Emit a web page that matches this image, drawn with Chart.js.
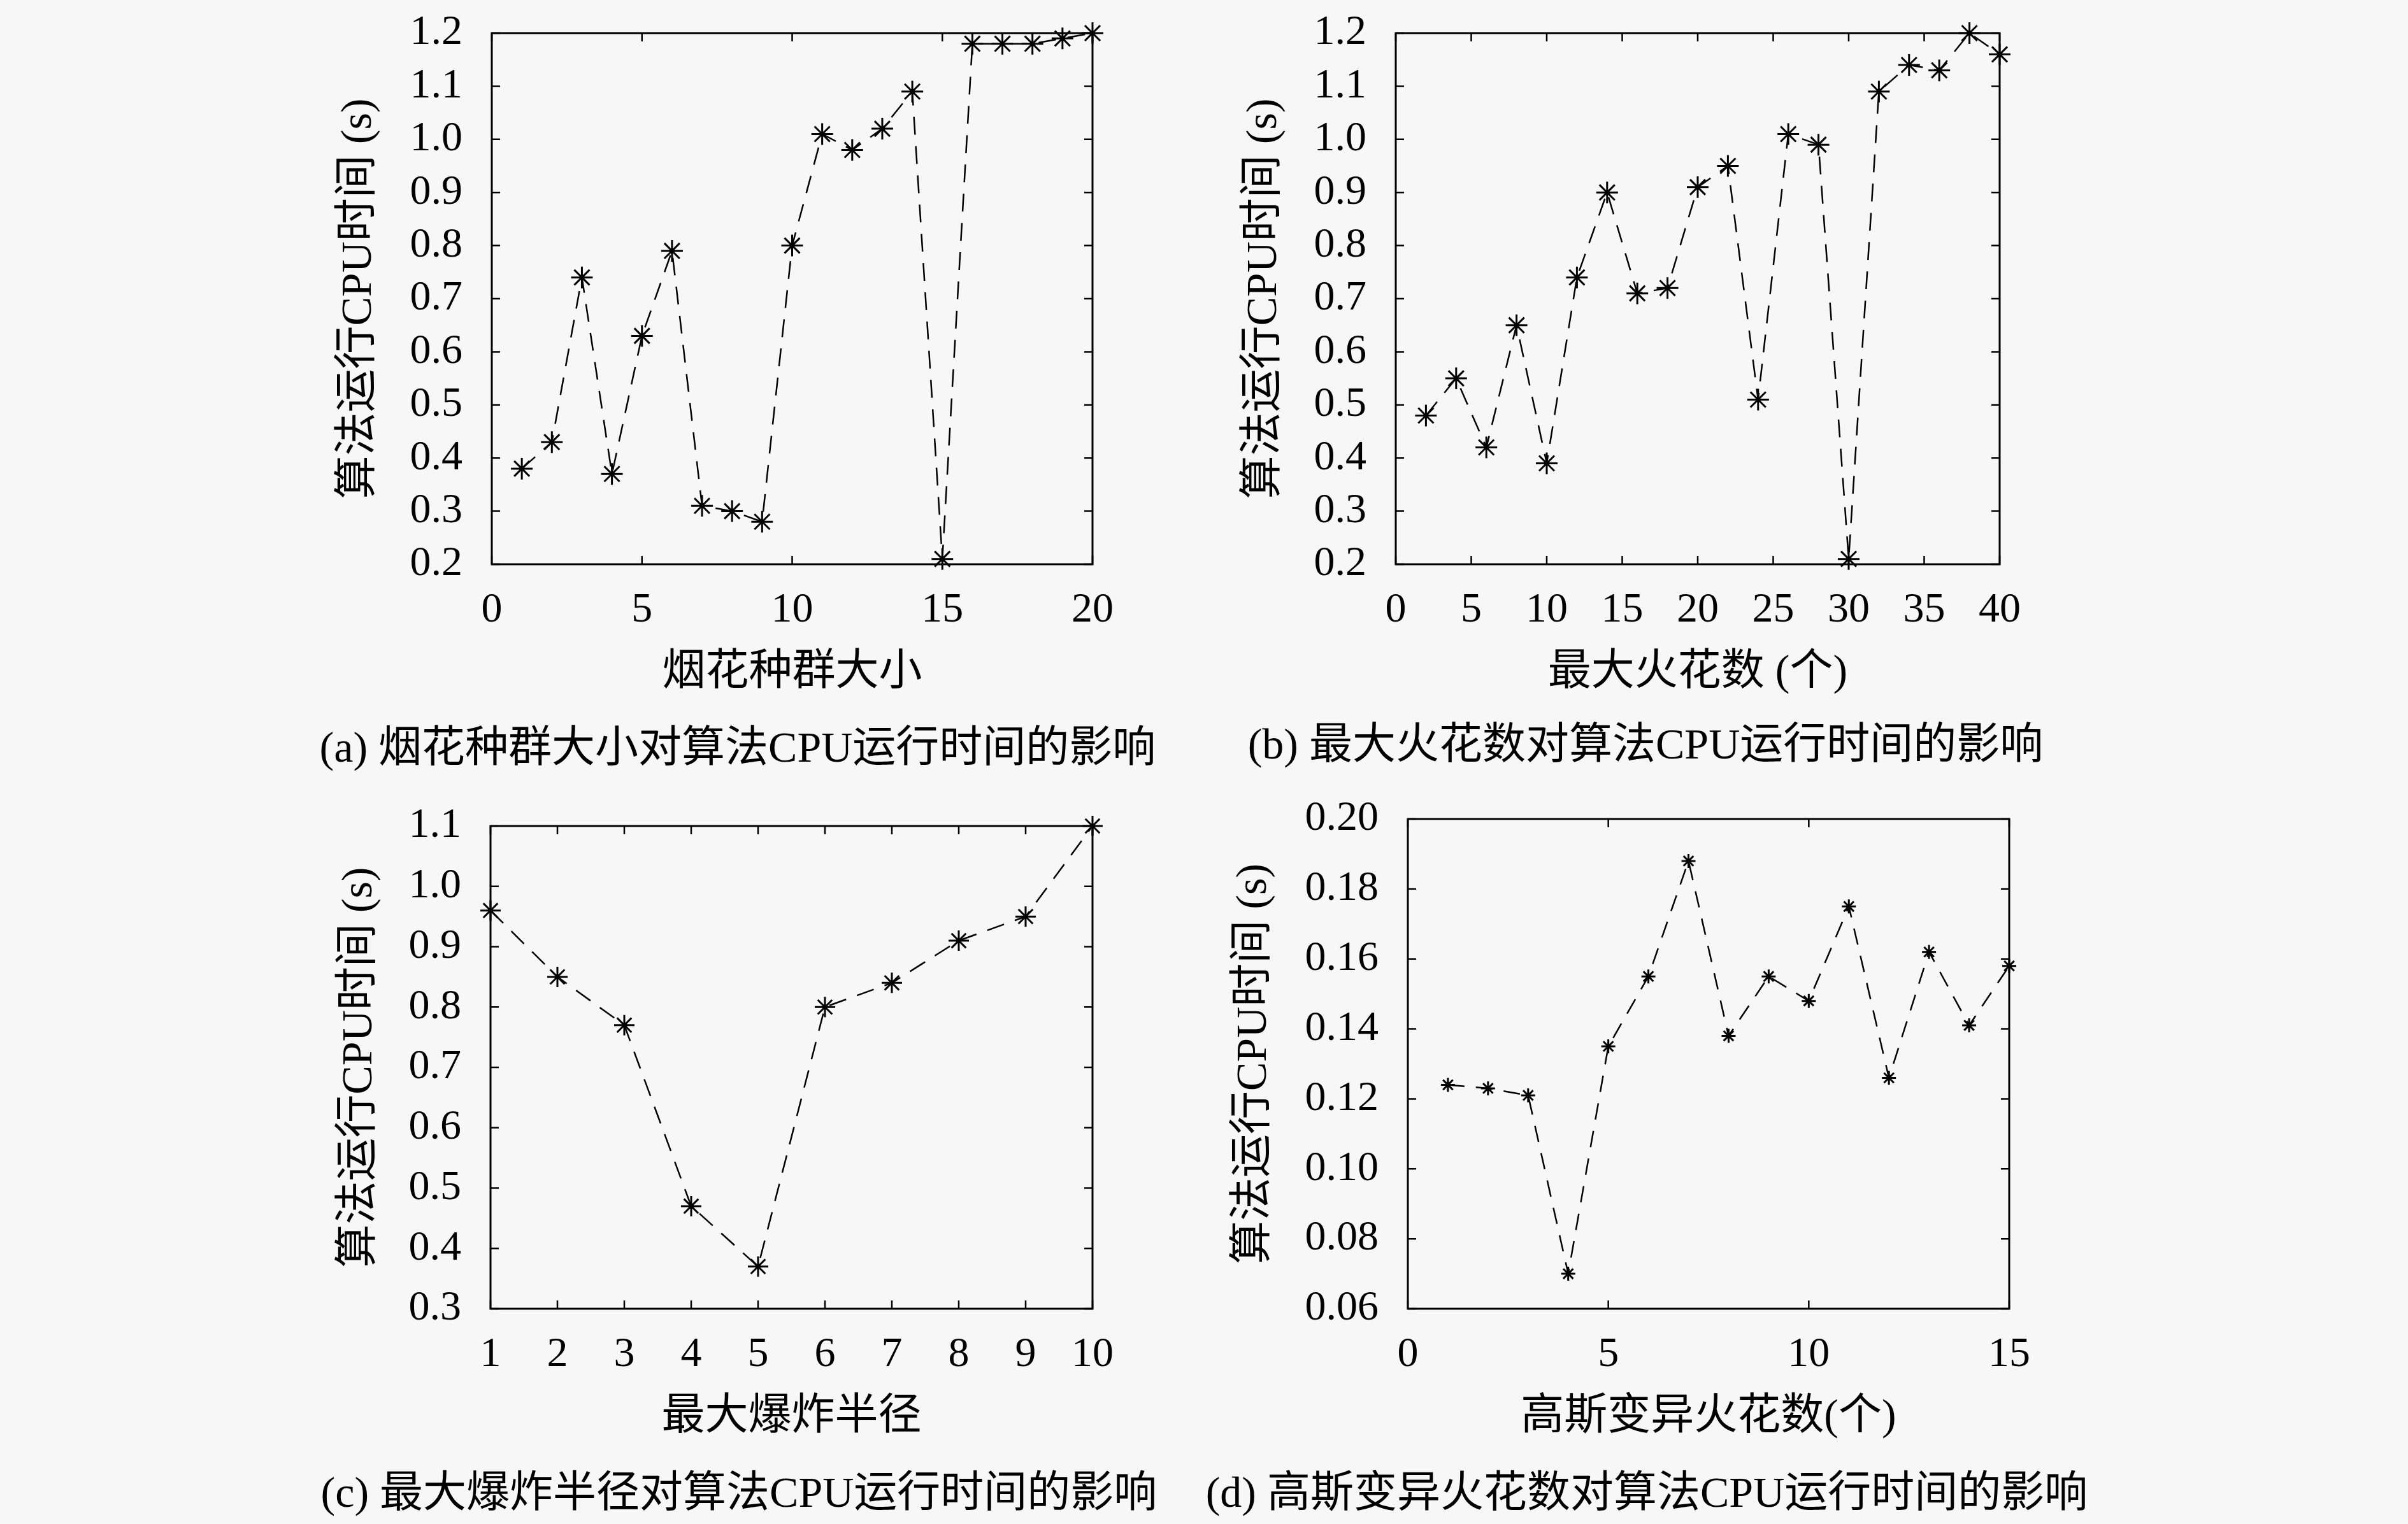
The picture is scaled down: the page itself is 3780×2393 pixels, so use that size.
<!DOCTYPE html>
<html lang="zh">
<head>
    <meta charset="UTF-8">
    <title>CPU运行时间</title>
    <style>
        html, body { margin: 0; padding: 0; background: #f7f7f7; }
        body { width: 3780px; height: 2393px; position: relative; overflow: hidden;
               font-family: 'Liberation Serif', 'Noto Sans CJK SC', serif; }
        .panel { position: absolute; }
        .caption { position: absolute; font-size: 68px; color: #000; white-space: nowrap;
                   transform: translate(-50%, -50%); }
    </style>
    <script src="https://cdn.jsdelivr.net/npm/chart.js"></script>
</head>
<body>
    <div class="panel" id="boxA"><canvas id="chartA"></canvas></div>
    <div class="panel" id="boxB"><canvas id="chartB"></canvas></div>
    <div class="panel" id="boxC"><canvas id="chartC"></canvas></div>
    <div class="panel" id="boxD"><canvas id="chartD"></canvas></div>

    <div class="caption" style="left:1158px; top:1166px;">(a) 烟花种群大小对算法CPU运行时间的影响</div>
    <div class="caption" style="left:2583px; top:1161px;">(b) 最大火花数对算法CPU运行时间的影响</div>
    <div class="caption" style="left:1160px; top:2336px;">(c) 最大爆炸半径对算法CPU运行时间的影响</div>
    <div class="caption" style="left:2585px; top:2336px;">(d) 高斯变异火花数对算法CPU运行时间的影响</div>

    <script>
        // (a) population size
        const popSize = [1, 2, 3, 4, 5, 6, 7, 8, 9, 10, 11, 12, 13, 14, 15, 16, 17, 18, 19, 20];
        const popTime = [0.38, 0.43, 0.74, 0.37, 0.63, 0.79, 0.31, 0.30, 0.28, 0.80,
                         1.01, 0.98, 1.02, 1.09, 0.21, 1.18, 1.18, 1.18, 1.19, 1.20];

        // (b) max sparks
        const sparkNum = [2, 4, 6, 8, 10, 12, 14, 16, 18, 20, 22, 24, 26, 28, 30, 32, 34, 36, 38, 40];
        const sparkTime = [0.48, 0.55, 0.42, 0.65, 0.39, 0.74, 0.90, 0.71, 0.72, 0.91,
                           0.95, 0.51, 1.01, 0.99, 0.21, 1.09, 1.14, 1.13, 1.20, 1.16];

        // (c) max explosion radius
        const radius = [1, 2, 3, 4, 5, 6, 7, 8, 9, 10];
        const radiusTime = [0.96, 0.85, 0.77, 0.47, 0.37, 0.80, 0.84, 0.91, 0.95, 1.10];

        // (d) gaussian sparks
        const gaussNum = [1, 2, 3, 4, 5, 6, 7, 8, 9, 10, 11, 12, 13, 14, 15];
        const gaussTime = [0.124, 0.123, 0.121, 0.070, 0.135, 0.155, 0.188, 0.138,
                           0.155, 0.148, 0.175, 0.126, 0.162, 0.141, 0.158];

        const yTitle = '算法运行CPU时间 (s)';
        const FONT = "'Liberation Serif', 'Noto Sans CJK SC', serif";
        const TICK_SIZE = 66, TITLE_SIZE = 68;

        // space around the plot area inside each canvas
        const L = 300, T = 120, R = 120, B = 240;

        // frame on all four sides with inward ticks
        const framePlugin = {
            id: 'frame',
            afterDatasetsDraw(chart) {
                const { ctx, chartArea: a, scales } = chart;
                ctx.save();
                ctx.strokeStyle = '#000';
                ctx.lineWidth = 3;
                ctx.strokeRect(a.left, a.top, a.right - a.left, a.bottom - a.top);
                ctx.lineWidth = 2.5;
                const len = 13;
                ctx.beginPath();
                scales.x.ticks.forEach(t => {
                    const px = scales.x.getPixelForValue(t.value);
                    ctx.moveTo(px, a.bottom); ctx.lineTo(px, a.bottom - len);
                    ctx.moveTo(px, a.top); ctx.lineTo(px, a.top + len);
                });
                scales.y.ticks.forEach(t => {
                    const py = scales.y.getPixelForValue(t.value);
                    ctx.moveTo(a.left, py); ctx.lineTo(a.left + len, py);
                    ctx.moveTo(a.right, py); ctx.lineTo(a.right - len, py);
                });
                ctx.stroke();
                ctx.restore();
            }
        };

        function makePanel(boxId, canvasId, plot, xs, ys, opt) {
            const w = plot.right - plot.left, h = plot.bottom - plot.top;
            const box = document.getElementById(boxId);
            box.style.left = (plot.left - L) + 'px';
            box.style.top = (plot.top - T) + 'px';
            box.style.width = (w + L + R) + 'px';
            box.style.height = (h + T + B) + 'px';
            const half = TITLE_SIZE * 1.2 / 2;

            return new Chart(document.getElementById(canvasId), {
                type: 'line',
                data: {
                    datasets: [{
                        data: xs.map((x, i) => ({ x: x, y: ys[i] })),
                        borderColor: '#000',
                        borderWidth: 2.5,
                        borderDash: opt.dash,
                        pointStyle: 'star',
                        pointRadius: opt.marker,
                        pointBorderWidth: 3,
                        pointBorderColor: '#000',
                        pointBackgroundColor: '#000',
                        tension: 0,
                        clip: false
                    }]
                },
                options: {
                    responsive: true,
                    maintainAspectRatio: false,
                    animation: false,
                    layout: { padding: { top: T, right: R, left: 0, bottom: 0 } },
                    plugins: { legend: { display: false }, tooltip: { enabled: false } },
                    scales: {
                        x: {
                            type: 'linear',
                            min: opt.xMin, max: opt.xMax,
                            afterFit: s => { s.height = B; },
                            grid: { display: false, drawTicks: false },
                            border: { display: false },
                            ticks: {
                                stepSize: opt.xStep, padding: 33, color: '#000',
                                font: { family: FONT, size: TICK_SIZE }
                            },
                            title: {
                                display: true, text: opt.xTitle, color: '#000',
                                font: { family: FONT, size: TITLE_SIZE },
                                padding: { top: 0, bottom: B - 171 - half }
                            }
                        },
                        y: {
                            min: opt.yMin, max: opt.yMax,
                            afterFit: s => { s.width = L; },
                            grid: { display: false, drawTicks: false },
                            border: { display: false },
                            ticks: {
                                stepSize: opt.yStep, padding: 46, color: '#000',
                                font: { family: FONT, size: TICK_SIZE },
                                callback: v => v.toFixed(opt.yDec)
                            },
                            title: {
                                display: true, text: yTitle, color: '#000',
                                font: { family: FONT, size: TITLE_SIZE },
                                padding: { top: L - opt.yTitleGap - half, bottom: 0 }
                            }
                        }
                    }
                },
                plugins: [framePlugin]
            });
        }

        makePanel('boxA', 'chartA', { left: 772, right: 1715, top: 52, bottom: 886 },
            popSize, popTime,
            { xMin: 0, xMax: 20, xStep: 5, yMin: 0.2, yMax: 1.2, yStep: 0.1, yDec: 1,
              xTitle: '烟花种群大小', yTitleGap: 208, dash: [28, 18], marker: 17 });

        makePanel('boxB', 'chartB', { left: 2191, right: 3139, top: 52, bottom: 886 },
            sparkNum, sparkTime,
            { xMin: 0, xMax: 40, xStep: 5, yMin: 0.2, yMax: 1.2, yStep: 0.1, yDec: 1,
              xTitle: '最大火花数 (个)', yTitleGap: 206, dash: [28, 18], marker: 17 });

        makePanel('boxC', 'chartC', { left: 770, right: 1715, top: 1297, bottom: 2055 },
            radius, radiusTime,
            { xMin: 1, xMax: 10, xStep: 1, yMin: 0.3, yMax: 1.1, yStep: 0.1, yDec: 1,
              xTitle: '最大爆炸半径', yTitleGap: 205, dash: [28, 18], marker: 16 });

        makePanel('boxD', 'chartD', { left: 2210, right: 3154, top: 1286, bottom: 2055 },
            gaussNum, gaussTime,
            { xMin: 0, xMax: 15, xStep: 5, yMin: 0.06, yMax: 0.20, yStep: 0.02, yDec: 2,
              xTitle: '高斯变异火花数(个)', yTitleGap: 241, dash: [26, 18], marker: 11 });
    </script>
</body>
</html>
